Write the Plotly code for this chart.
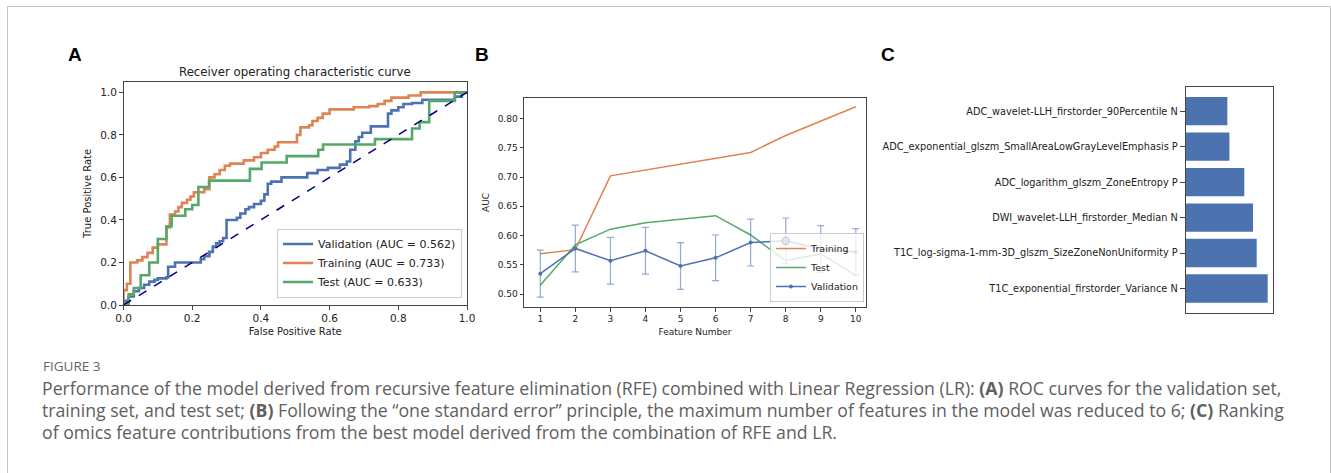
import plotly.graph_objects as go

W, H = 1331, 473

def px(x):
    return x / W

def py(y):
    return 1 - y / H

# ---------------- Panel A: ROC curves ----------------
val_fpr = [0, 0.005, 0.015, 0.03, 0.045, 0.06, 0.075, 0.09, 0.10, 0.125, 0.13, 0.15, 0.225, 0.235,
           0.25, 0.26, 0.27, 0.28, 0.29, 0.30, 0.33, 0.34, 0.355, 0.365, 0.38, 0.40, 0.41, 0.42,
           0.43, 0.46, 0.535, 0.565, 0.595, 0.63, 0.65, 0.66, 0.675, 0.685, 0.695, 0.72, 0.77,
           0.78, 0.80, 0.815, 0.84, 0.87, 0.965, 0.985, 1.0]
val_tpr = [0, 0.02, 0.04, 0.065, 0.08, 0.095, 0.11, 0.118, 0.125, 0.13, 0.18, 0.20, 0.215, 0.23,
           0.25, 0.275, 0.29, 0.30, 0.315, 0.40, 0.41, 0.43, 0.45, 0.46, 0.475, 0.49, 0.52, 0.57,
           0.58, 0.60, 0.62, 0.635, 0.645, 0.66, 0.675, 0.73, 0.77, 0.79, 0.81, 0.84, 0.90,
           0.915, 0.93, 0.945, 0.95, 0.965, 0.98, 1.0, 1.0]

train_fpr = [0, 0, 0.01, 0.02, 0.04, 0.055, 0.07, 0.085, 0.10, 0.125, 0.135, 0.15, 0.16, 0.17,
             0.185, 0.195, 0.205, 0.235, 0.25, 0.265, 0.28, 0.295, 0.31, 0.35, 0.38, 0.40, 0.42,
             0.44, 0.45, 0.505, 0.515, 0.54, 0.55, 0.565, 0.58, 0.60, 0.67, 0.715, 0.74, 0.76,
             0.78, 0.83, 0.865, 1.0]
train_tpr = [0, 0.07, 0.10, 0.20, 0.21, 0.225, 0.245, 0.27, 0.285, 0.365, 0.425, 0.44, 0.46, 0.48,
             0.495, 0.51, 0.53, 0.545, 0.60, 0.615, 0.635, 0.655, 0.665, 0.68, 0.695, 0.715, 0.73,
             0.745, 0.765, 0.80, 0.835, 0.845, 0.865, 0.88, 0.90, 0.92, 0.93, 0.935, 0.945, 0.96,
             0.975, 0.985, 1.0, 1.0]

test_fpr = [0, 0.015, 0.03, 0.05, 0.075, 0.10, 0.125, 0.14, 0.18, 0.20, 0.218, 0.249, 0.368,
            0.402, 0.475, 0.567, 0.581, 0.732, 0.84, 0.862, 0.89, 0.964, 1.0]
test_tpr = [0, 0.05, 0.08, 0.14, 0.20, 0.31, 0.37, 0.42, 0.45, 0.47, 0.555, 0.585, 0.64,
            0.67, 0.70, 0.73, 0.755, 0.78, 0.83, 0.86, 0.96, 1.0, 1.0]

roc_names = ["Validation", "Training", "Test"]
roc_aucs = [0.562, 0.733, 0.633]
chance_line = [0, 1]
roc_ticks = [0, 0.2, 0.4, 0.6, 0.8, 1.0]

# ---------------- Panel B: AUC vs feature number ----------------
feature_number = [1, 2, 3, 4, 5, 6, 7, 8, 9, 10]
train_auc = [0.569, 0.576, 0.702, 0.712, 0.723, 0.733, 0.742, 0.771, 0.796, 0.820]
test_auc = [0.515, 0.584, 0.611, 0.622, 0.628, 0.634, 0.601, 0.557, 0.569, 0.532]
val_auc = [0.535, 0.578, 0.557, 0.574, 0.548, 0.562, 0.588, 0.591, 0.577, 0.572]
val_err = [0.040, 0.040, 0.040, 0.040, 0.040, 0.039, 0.040, 0.039, 0.040, 0.040]
b_yticks = [0.50, 0.55, 0.60, 0.65, 0.70, 0.75, 0.80]

# ---------------- Panel C: feature contributions ----------------
feature_names = [
    "T1C_exponential_firstorder_Variance N",
    "T1C_log-sigma-1-mm-3D_glszm_SizeZoneNonUniformity P",
    "DWI_wavelet-LLH_firstorder_Median N",
    "ADC_logarithm_glszm_ZoneEntropy P",
    "ADC_exponential_glszm_SmallAreaLowGrayLevelEmphasis P",
    "ADC_wavelet-LLH_firstorder_90Percentile N",
]
feature_weights = [1.0, 0.866, 0.821, 0.715, 0.533, 0.508]

BLUE = "#4C72B0"
ORANGE = "#DD8452"
GREEN = "#55A868"
MPL_FONT = "DejaVu Sans"
TXT = "#222222"
SPINE = "#444444"

fig = go.Figure()

# Panel A traces
for name, auc, xs, ys, col in zip(roc_names, roc_aucs,
                                  [val_fpr, train_fpr, test_fpr],
                                  [val_tpr, train_tpr, test_tpr],
                                  [BLUE, ORANGE, GREEN]):
    fig.add_trace(go.Scatter(
        x=xs, y=ys, mode="lines", line=dict(color=col, width=2.6, shape="hv"),
        name=f"{name} (AUC = {auc:.3f})", xaxis="x", yaxis="y", legend="legend"))
fig.add_trace(go.Scatter(
    x=chance_line, y=chance_line, mode="lines",
    line=dict(color="#000080", width=1.5, dash="dash"),
    showlegend=False, xaxis="x", yaxis="y"))

# Panel B traces
fig.add_trace(go.Scatter(
    x=feature_number, y=train_auc, mode="lines", name="Training",
    line=dict(color=ORANGE, width=1.5), xaxis="x2", yaxis="y2", legend="legend2"))
fig.add_trace(go.Scatter(
    x=feature_number, y=test_auc, mode="lines", name="Test",
    line=dict(color=GREEN, width=1.5), xaxis="x2", yaxis="y2", legend="legend2"))
fig.add_trace(go.Scatter(
    x=feature_number, y=val_auc, mode="lines+markers", name="Validation",
    line=dict(color=BLUE, width=1.5), marker=dict(color=BLUE, size=4),
    error_y=dict(type="data", array=val_err, visible=True,
                 color="rgba(76,114,176,0.6)", thickness=1.2, width=3.5),
    xaxis="x2", yaxis="y2", legend="legend2"))
best_i = max(range(len(val_auc)), key=lambda i: val_auc[i])
fig.add_trace(go.Scatter(
    x=[feature_number[best_i]], y=[val_auc[best_i]], mode="markers",
    marker=dict(symbol="circle-open", size=7, color="#111111", line=dict(width=1.6)),
    showlegend=False, xaxis="x2", yaxis="y2"))

# Panel C trace
fig.add_trace(go.Bar(
    x=feature_weights, y=feature_names, orientation="h", width=0.8,
    marker=dict(color=BLUE, line=dict(width=0)),
    showlegend=False, xaxis="x3", yaxis="y3"))

tickfont = dict(family=MPL_FONT, size=10.5, color=TXT)

def axis_common(**kw):
    d = dict(showline=True, linecolor=SPINE, linewidth=1, mirror=True,
             showgrid=False, zeroline=False, ticks="outside", ticklen=3.5,
             tickwidth=1, tickcolor=SPINE, tickfont=tickfont, automargin=False)
    d.update(kw)
    return d

fig.update_layout(
    width=W, height=H,
    autosize=False,
    margin=dict(l=0, r=0, t=0, b=0, pad=0, autoexpand=False),
    paper_bgcolor="white", plot_bgcolor="white",
    xaxis=axis_common(domain=[px(123.5), px(467)], range=[0, 1],
                      tickvals=roc_ticks, tickformat=".1f", anchor="y",
                      title=dict(text="False Positive Rate", standoff=4,
                                 font=dict(family=MPL_FONT, size=10, color=TXT))),
    yaxis=axis_common(domain=[py(305), py(81.7)], range=[0, 1.05],
                      tickvals=roc_ticks, tickformat=".1f", anchor="x",
                      title=dict(text="True Positive Rate", standoff=6,
                                 font=dict(family=MPL_FONT, size=10, color=TXT))),
    xaxis2=axis_common(domain=[px(524), px(866)], range=[0.535, 10.29],
                       tickvals=feature_number, anchor="y2",
                       tickfont=dict(family=MPL_FONT, size=9, color=TXT),
                       title=dict(text="Feature Number", standoff=5,
                                  font=dict(family=MPL_FONT, size=9, color=TXT))),
    yaxis2=axis_common(domain=[py(307), py(98)], range=[0.478, 0.835],
                       tickvals=b_yticks, tickformat=".2f", anchor="x2",
                       tickfont=dict(family=MPL_FONT, size=9, color=TXT),
                       title=dict(text="AUC", standoff=6,
                                  font=dict(family=MPL_FONT, size=9, color=TXT))),
    xaxis3=axis_common(domain=[px(1185.7), px(1272.7)],
                       range=[0, max(feature_weights) * 1.061],
                       ticks="", showticklabels=False, anchor="y3"),
    yaxis3=axis_common(domain=[py(313), py(86.7)], range=[-0.69, 5.69],
                       type="category", anchor="x3", ticklen=5,
                       tickfont=dict(family=MPL_FONT, size=9.75, color=TXT)),
    legend=dict(x=px(462), y=py(297.5), xanchor="right", yanchor="bottom",
                bgcolor="rgba(255,255,255,0.85)", bordercolor="#cccccc", borderwidth=1,
                font=dict(family=MPL_FONT, size=11, color=TXT),
                tracegroupgap=0, itemwidth=30),
    legend2=dict(x=px(864), y=py(302), xanchor="right", yanchor="bottom",
                 bgcolor="rgba(255,255,255,0.8)", bordercolor="#cccccc", borderwidth=1,
                 font=dict(family=MPL_FONT, size=9.5, color=TXT),
                 tracegroupgap=0, itemwidth=30),
    showlegend=True,
)

def paper_note(text, x, y, xanchor, font):
    return dict(text=text, x=x, y=y, xref="paper", yref="paper", xanchor=xanchor,
                yanchor="middle", showarrow=False, font=font)

label_font = dict(family="Liberation Sans", size=19, color="black")
annotations = [
    paper_note("Receiver operating characteristic curve", px(295.3), py(72), "center",
               dict(family=MPL_FONT, size=11.75, color=TXT)),
    paper_note("<b>A</b>", px(75), py(55), "center", label_font),
    paper_note("<b>B</b>", px(481.5), py(55), "center", label_font),
    paper_note("<b>C</b>", px(887.5), py(55), "center", label_font),
    paper_note("FIGURE 3", px(41), py(366), "left",
               dict(family="Open Sans", size=13.5, color="#666666")),
]

caption_lines = [
    "Performance of the model derived from recursive feature elimination (RFE) combined with "
    "Linear Regression (LR): <b>(A)</b> ROC curves for the validation set,",
    "training set, and test set; <b>(B)</b> Following the \u201cone standard error\u201d principle, "
    "the maximum number of features in the model was reduced to 6; <b>(C)</b> Ranking",
    "of omics feature contributions from the best model derived from the combination of RFE and LR.",
]
for i, line in enumerate(caption_lines):
    annotations.append(paper_note(line, px(40), py(388 + 22 * i), "left",
                                  dict(family="Open Sans", size=17.7, color="#606060")))

fig.update_layout(annotations=annotations)

fig.add_shape(type="rect", xref="paper", yref="paper",
              x0=px(7.5), x1=px(1330.5), y0=-0.1, y1=py(6.5),
              line=dict(color="#c4c4c4", width=1), fillcolor="rgba(0,0,0,0)", layer="below")

fig.write_html("out.html")
